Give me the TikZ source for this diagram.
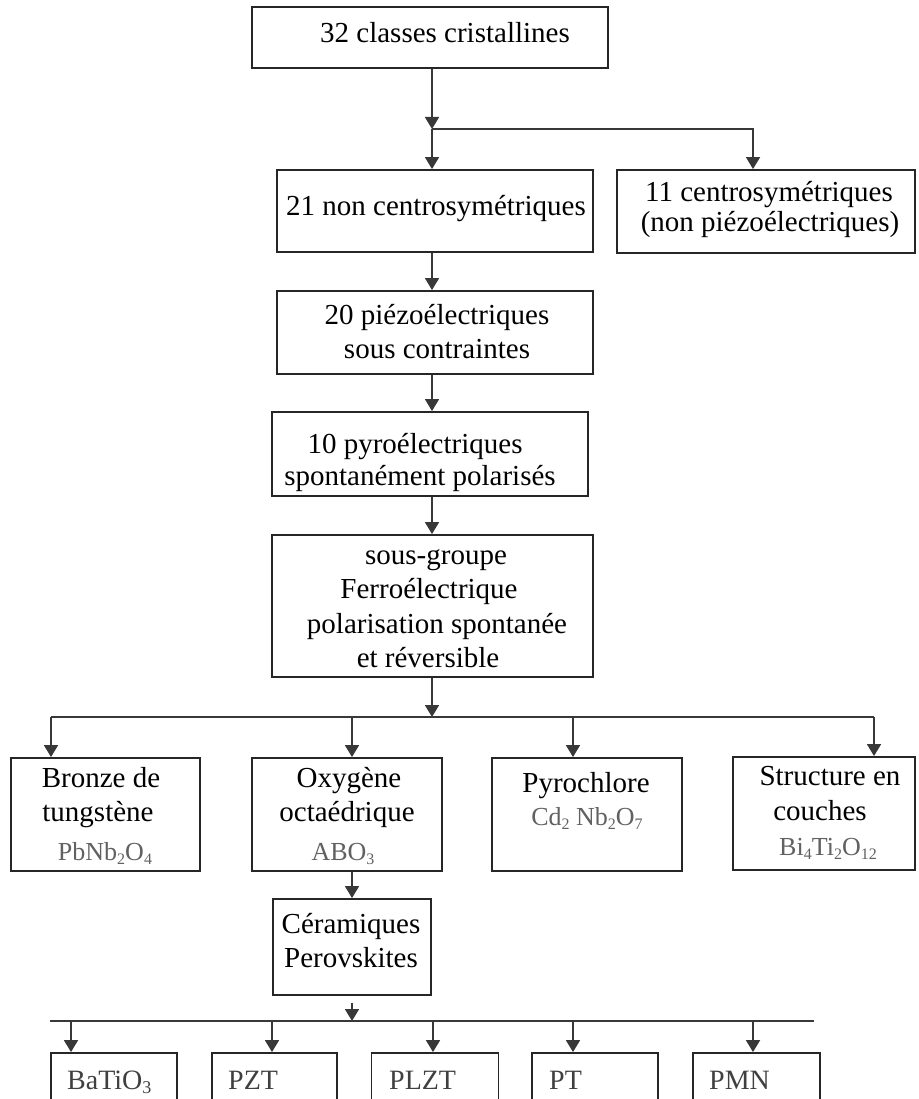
\documentclass[tikz,border=0pt]{standalone}
\usepackage{fontspec}
\setmainfont{Liberation Serif}
\usetikzlibrary{arrows.meta}
\newcommand{\sbs}[1]{\raisebox{-0.35ex}{\fontsize{16}{16}\selectfont #1}}
\newcommand{\sbl}[1]{\raisebox{-0.35ex}{\fontsize{18}{18}\selectfont #1}}
\begin{document}
\begin{tikzpicture}[x=1pt,y=-1pt,
  bx/.style={draw=black!85, line width=1.9pt, inner sep=0pt, rectangle},
  txt/.style={font=\fontsize{29}{34}\selectfont, inner sep=0pt, anchor=base, text=black},
  frm/.style={font=\fontsize{26}{30}\selectfont, inner sep=0pt, anchor=base, text=black!62},
  lst/.style={font=\fontsize{28}{30}\selectfont, inner sep=0pt, anchor=base west, text=black!75},
  arr/.style={draw=black!78, line width=1.8pt, -{Triangle[length=12pt,width=14pt]}},
  ln/.style={draw=black!78, line width=1.8pt}]
\useasboundingbox (0,0) rectangle (918,1099);
\clip (0,0) rectangle (918,1099);

% boxes
\node[bx, minimum width=356pt, minimum height=61pt] (top) at (430,37.5) {};
\node[bx, minimum width=316pt, minimum height=82pt] (n21) at (435,211) {};
\node[bx, minimum width=298pt, minimum height=83pt] (c11) at (766,211.5) {};
\node[bx, minimum width=316pt, minimum height=83pt] (p20) at (435,332.5) {};
\node[bx, minimum width=316pt, minimum height=84pt] (p10) at (430,454) {};
\node[bx, minimum width=321pt, minimum height=142pt] (sg) at (432.5,606) {};
\node[bx, minimum width=189pt, minimum height=113pt] (b1) at (105.5,814.5) {};
\node[bx, minimum width=190pt, minimum height=113pt] (b2) at (347,814.5) {};
\node[bx, minimum width=190pt, minimum height=113pt] (b3) at (587,814.5) {};
\node[bx, minimum width=182pt, minimum height=113pt] (b4) at (824,813.5) {};
\node[bx, minimum width=158pt, minimum height=96pt] (cer) at (352,947) {};
\node[bx, minimum width=126pt, minimum height=77pt] (d1) at (114,1091.5) {};
\node[bx, minimum width=125pt, minimum height=77pt] (d2) at (274.5,1091.5) {};
\node[bx, minimum width=127pt, minimum height=77pt] (d3) at (435,1091.5) {};
\node[bx, minimum width=126pt, minimum height=77pt] (d4) at (595,1091.5) {};
\node[bx, minimum width=127pt, minimum height=77pt] (d5) at (756.5,1091.5) {};

% texts
\node[txt] (ttop) at (445,43) {32 classes cristallines};
\node[txt] (tn21) at (436,215) {21 non centrosymétriques};
\node[txt] (tc11a) at (769,202) {11 centrosymétriques};
\node[txt] (tc11b) at (770,232) {(non piézoélectriques)};
\node[txt] (tp20a) at (437,324) {20 piézoélectriques};
\node[txt] (tp20b) at (437,358) {sous contraintes};
\node[txt] (tp10a) at (415,453) {10 pyroélectriques};
\node[txt] (tp10b) at (420,485) {spontanément polarisés};
\node[txt] (tsga) at (436,564) {sous-groupe};
\node[txt] (tsgb) at (429,598) {Ferroélectrique};
\node[txt] (tsgc) at (437,633) {polarisation spontanée};
\node[txt] (tsgd) at (428,667) {et réversible};
\node[txt] (tb1a) at (101,787) {Bronze de};
\node[txt] (tb1b) at (98,821) {tungstène};
\node[frm] (tb1c) at (105,860) {PbNb\sbs{2}O\sbs{4}};
\node[txt] (tb2a) at (349,787) {Oxygène};
\node[txt] (tb2b) at (347,821) {octaédrique};
\node[frm] (tb2c) at (343,860) {ABO\sbs{3}};
\node[txt] (tb3a) at (586,792) {Pyrochlore};
\node[frm] (tb3b) at (587,825) {Cd\sbs{2} Nb\sbs{2}O\sbs{7}};
\node[txt] (tb4a) at (830,785) {Structure en};
\node[txt] (tb4b) at (820,820) {couches};
\node[frm] (tb4c) at (828,855) {Bi\sbs{4}Ti\sbs{2}O\sbs{12}};
\node[txt] (tcera) at (351,933) {Céramiques};
\node[txt] (tcerb) at (351,967) {Perovskites};
\node[lst] (td1) at (67,1089) {BaTiO\sbl{3}};
\node[lst] (td2) at (228,1089) {PZT};
\node[lst] (td3) at (389,1089) {PLZT};
\node[lst] (td4) at (549,1089) {PT};
\node[lst] (td5) at (709,1089) {PMN};

% junction points
\coordinate (j1) at (432,129);
\coordinate (j1r) at (753,129);
\coordinate (j2) at (432,717);
\coordinate (j2L) at (51,717);
\coordinate (j2b) at (352,717);
\coordinate (j2c) at (573,717);
\coordinate (j2R) at (874,717);
\coordinate (j3) at (352,1021);
\coordinate (j3L) at (50,1021);
\coordinate (j3a) at (71,1021);
\coordinate (j3b) at (272,1021);
\coordinate (j3c) at (433,1021);
\coordinate (j3d) at (573,1021);
\coordinate (j3e) at (753,1021);
\coordinate (j3R) at (814,1021);

% connectors
\draw[arr] (top.south -| j1) -- (j1);
\draw[arr] (j1) -- (j1 |- n21.north);
\draw[arr] (j1) -- (j1r) -- (j1r |- c11.north);
\draw[arr] (n21.south -| j1) -- (p20.north -| j1);
\draw[arr] (p20.south -| j1) -- (p10.north -| j1);
\draw[arr] (p10.south -| j1) -- (sg.north -| j1);
\draw[arr] (sg.south -| j1) -- (j2);
\draw[ln] (j2L) -- (j2R);
\draw[arr] (j2L) -- (j2L |- b1.north);
\draw[arr] (j2b) -- (j2b |- b2.north);
\draw[arr] (j2c) -- (j2c |- b3.north);
\draw[arr] (j2R) -- (j2R |- b4.north);
\draw[arr] (b2.south -| j2b) -- (cer.north -| j2b);
\draw[arr] ([yshift=-7pt]cer.south) -- (j3);
\draw[ln, line width=2.2pt] (j3L) -- (j3R);
\draw[arr] (j3a) -- (j3a |- d1.north);
\draw[arr] (j3b) -- (j3b |- d2.north);
\draw[arr] (j3c) -- (j3c |- d3.north);
\draw[arr] (j3d) -- (j3d |- d4.north);
\draw[arr] (j3e) -- (j3e |- d5.north);
\end{tikzpicture}
\end{document}
